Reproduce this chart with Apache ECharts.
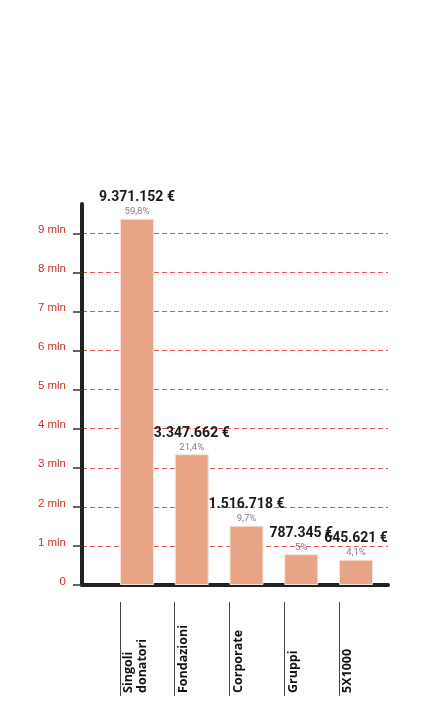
<!DOCTYPE html>
<html>
<head>
<meta charset="utf-8">
<script src="https://cdn.jsdelivr.net/npm/echarts@6/dist/echarts.min.js"></script>
<style>
  html, body { margin: 0; padding: 0; background: #fff; }
  #chart1 { width: 431px; height: 705px; }
</style>
</head>
<body>
<div id="chart1"></div>
<script>
// fonti di raccolta
const categories = ['Singoli\ndonatori', 'Fondazioni', 'Corporate', 'Gruppi', '5X1000'];
const amounts = [9371152, 3347662, 1516718, 787345, 645621];
const shares = [59.8, 21.4, 9.7, 5, 4.1];
const yTicks = [0, 1, 2, 3, 4, 5, 6, 7, 8, 9]; // mln

function euro(v) {
    return String(v).replace(/\B(?=(\d{3})+(?!\d))/g, '.') + ' €';
}
function pct(v) {
    return String(v).replace('.', ',') + '%';
}

const myChart = echarts.init(document.getElementById('chart1'));
const option = {
    backgroundColor: '#fff',
    animation: false,
    grid: [
        // assi e griglia
        { left: 82, right: 43, top: 204, bottom: 120 },
        // barre
        { left: 109.6, right: 47.6, top: 204, bottom: 120 },
        // etichette categorie
        { left: 92.6, right: 64.6, top: 590, bottom: 103 }
    ],
    xAxis: [
        {
            gridIndex: 0, type: 'value', min: 0, max: 1,
            axisLine: { show: true, lineStyle: { color: '#222', width: 4 } },
            axisTick: { show: false }, axisLabel: { show: false }, splitLine: { show: false }
        },
        {
            gridIndex: 1, type: 'category', data: categories, show: false
        },
        {
            gridIndex: 2, type: 'category', data: categories,
            axisLine: { show: false },
            axisTick: { show: true, alignWithLabel: true, length: 94, lineStyle: { color: '#444', width: 1 } },
            axisLabel: {
                rotate: 90, align: 'left', verticalAlign: 'top', margin: 91,
                padding: [2, 0, 0, 0], interval: 0,
                color: '#111', fontFamily: 'Open Sans', fontWeight: 'bold', fontSize: 12.5, lineHeight: 13.5
            }
        }
    ],
    yAxis: [
        {
            gridIndex: 0, type: 'value', min: 0, max: 9.75e6,
            axisLine: { show: true, lineStyle: { color: '#222', width: 4 } },
            axisTick: {
                show: true, length: 9, customValues: yTicks.map(v => v * 1e6),
                lineStyle: { color: '#333', width: 1.5 }
            },
            axisLabel: {
                margin: 16, customValues: yTicks.map(v => v * 1e6),
                color: '#c8322b', fontFamily: 'Liberation Sans', fontSize: 11.5,
                verticalAlign: 'bottom', lineHeight: 7,
                formatter: v => v === 0 ? '0' : (v / 1e6) + ' mln'
            },
            splitLine: {
                show: true,
                lineStyle: { color: '#de5a5a', width: 1, type: [5, 3] }
            }
        },
        {
            gridIndex: 1, type: 'value', min: 0, max: 9.75e6, show: false
        },
        {
            gridIndex: 2, type: 'value', show: false
        }
    ],
    series: [
        {
            type: 'bar',
            xAxisIndex: 1,
            yAxisIndex: 1,
            barWidth: 34,
            data: amounts,
            itemStyle: { color: '#e8a487', borderColor: '#f4e4d6', borderWidth: 1 },
            label: {
                show: true,
                position: 'top',
                distance: 1,
                formatter: p => '{v|' + euro(p.value) + '}\n{p|' + pct(shares[p.dataIndex]) + '}',
                rich: {
                    v: { fontFamily: 'Roboto', fontWeight: 'bold', fontSize: 14, color: '#1a1a1a', lineHeight: 16 },
                    p: { fontFamily: 'Roboto', fontSize: 9.5, color: '#857a92', lineHeight: 12 }
                }
            }
        }
    ]
};
myChart.setOption(option);
</script>
</body>
</html>
